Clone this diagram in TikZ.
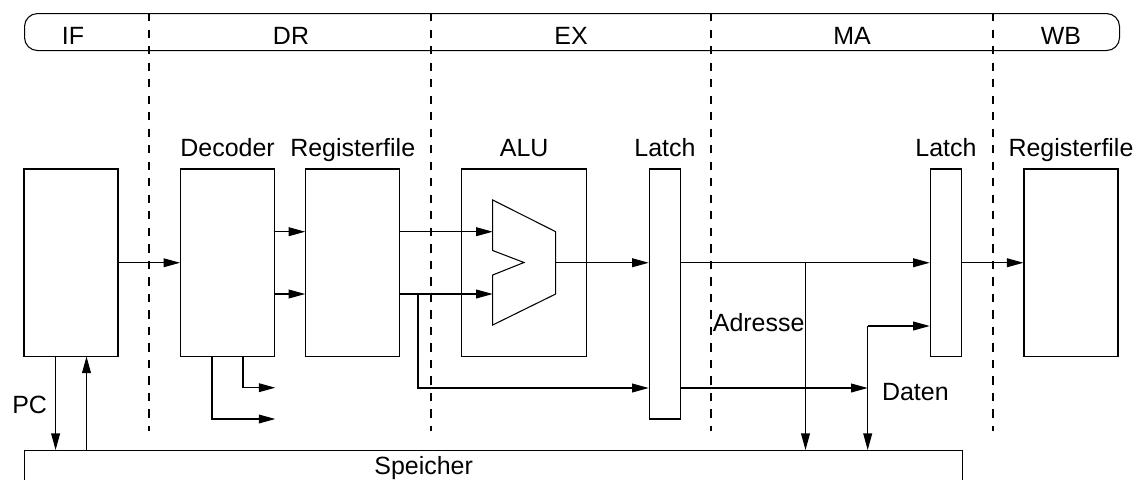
\documentclass[tikz,border=0pt]{standalone}
\usepackage{fontspec}
\setmainfont{Liberation Sans}
\usetikzlibrary{arrows.meta,positioning,calc}
\newcommand{\pipefont}{\fontsize{14.2}{16}\selectfont}

\begin{document}
\begin{tikzpicture}[
  unit/.style={
    rectangle, draw=black, line width=0.6pt,
    minimum width=1.88cm, minimum height=3.75cm,
    inner sep=0pt
  },
  latch/.style={unit, minimum width=0.63cm},
  caption/.style={font=\pipefont, inner sep=0pt, anchor=base},
  sep/.style={line width=0.6pt, dash pattern=on 4.7pt off 4.7pt},
  conn/.style={-{Triangle[length=9.4pt,width=5pt]}, line width=0.6pt}
]
\useasboundingbox (0,0) rectangle (22.72,-9.58);
\clip (0,0) rectangle (22.72,-9.58);

\node[draw, line width=0.6pt, rounded corners=0.26cm, inner sep=0pt,
  minimum width=21.9cm, minimum height=0.74cm, anchor=north west] (bar) at (0.48,-0.26) {};
\foreach \x in {2.98,8.62,14.22,19.86}
  \draw[sep] (\x,-0.26) -- (\x,-8.62);

\node[caption] (if-t) at (1.46,-0.886)  {IF};
\node[caption] (dr-t) at (5.82,-0.886)  {DR};
\node[caption] (ex-t) at (11.42,-0.886) {EX};
\node[caption] (ma-t) at (17.04,-0.886) {MA};
\node[caption] (wb-t) at (21.22,-0.886) {WB};

\node[unit]  (if)  at (1.42,-5.255)  {};
\node[unit]  (dec) at (4.552,-5.255) {};
\node[unit]  (reg) at (7.055,-5.255) {};
\node[unit, minimum width=2.494cm] (alu) at (10.483,-5.255) {};
\node[latch, minimum height=5cm] (l1) at (13.3,-5.88) {};
\node[latch] (l2)  at (18.92,-5.255) {};
\node[unit]  (wb)  at (21.42,-5.255) {};
\node[draw, line width=0.6pt, inner sep=0pt, minimum width=18.76cm, minimum height=1cm,
  anchor=north west] (mem) at (0.48,-9.0) {};

\node[caption] (dec-t) at ([yshift=0.246cm]dec.north) {Decoder};
\node[caption] (reg-t) at ([yshift=0.246cm]reg.north) {Registerfile};
\node[caption] (alu-t) at ([yshift=0.246cm]alu.north) {ALU};
\node[caption] (l1-t)  at ([yshift=0.246cm]l1.north)  {Latch};
\node[caption] (l2-t)  at ([yshift=0.246cm]l2.north)  {Latch};
\node[caption] (wb-t2) at ([yshift=0.246cm]wb.north)  {Registerfile};

\draw[line width=0.6pt] (9.854,-4.0) -- (11.114,-4.634) -- (11.114,-5.88) -- (9.854,-6.5)
  -- (9.854,-5.5) -- (10.48,-5.25) -- (9.854,-5.01) -- cycle;

\coordinate (in1)   at (9.854,-4.634);
\coordinate (in2)   at (9.854,-5.88);
\coordinate (out)   at (11.114,-5.255);
\coordinate (adr)   at (16.11,-5.255);
\coordinate (brk)   at (8.36,-5.88);
\coordinate (dat)   at (17.354,-7.76);
\coordinate (dbus)  at (17.354,-6.52);
\coordinate (pcdn)  at (1.112,-7.13);
\coordinate (pcup)  at (1.73,-7.13);
\coordinate (dec1)  at (4.86,-7.13);
\coordinate (dec2)  at (4.24,-7.13);
\coordinate (dout1) at (5.506,-7.754);
\coordinate (dout2) at (5.506,-8.38);

\draw[conn] (if.east) -- (dec.west);
\draw[conn] (dec.east |- in1) -- (reg.west |- in1);
\draw[conn] (dec.east |- in2) -- (reg.west |- in2);
\draw[conn] (reg.east |- in1) -- (in1);
\draw[conn] (reg.east |- in2) -- (in2);
\draw[conn] (brk) |- (l1.west |- dat);
\draw[conn] (out) -- (out -| l1.west);
\draw[conn] (l1.east |- out) -- (out -| l2.west);
\draw[conn] (adr) -- (adr |- mem.north);
\draw[conn] (l1.east |- dat) -- (dat);
\draw[conn] (dbus) -- (dbus |- mem.north);
\draw[conn] (dbus) -- (dbus -| l2.west);
\draw[conn] (l2.east) -- (wb.west);
\draw[conn] (pcdn) -- (pcdn |- mem.north);
\draw[conn] (pcup |- mem.north) -- (pcup);
\draw[conn] (dec1) |- (dout1);
\draw[conn] (dec2) |- (dout2);

\node[caption] (pc-t) at (0.592,-8.267) {PC};
\node[caption, anchor=base west] (adr-t) at (14.25,-6.633) {Adresse};
\node[caption, anchor=base west] (dat-t) at (17.634,-8.013) {Daten};
\node[caption] (mem-t) at (8.472,-9.48) {Speicher};
\end{tikzpicture}
\end{document}
